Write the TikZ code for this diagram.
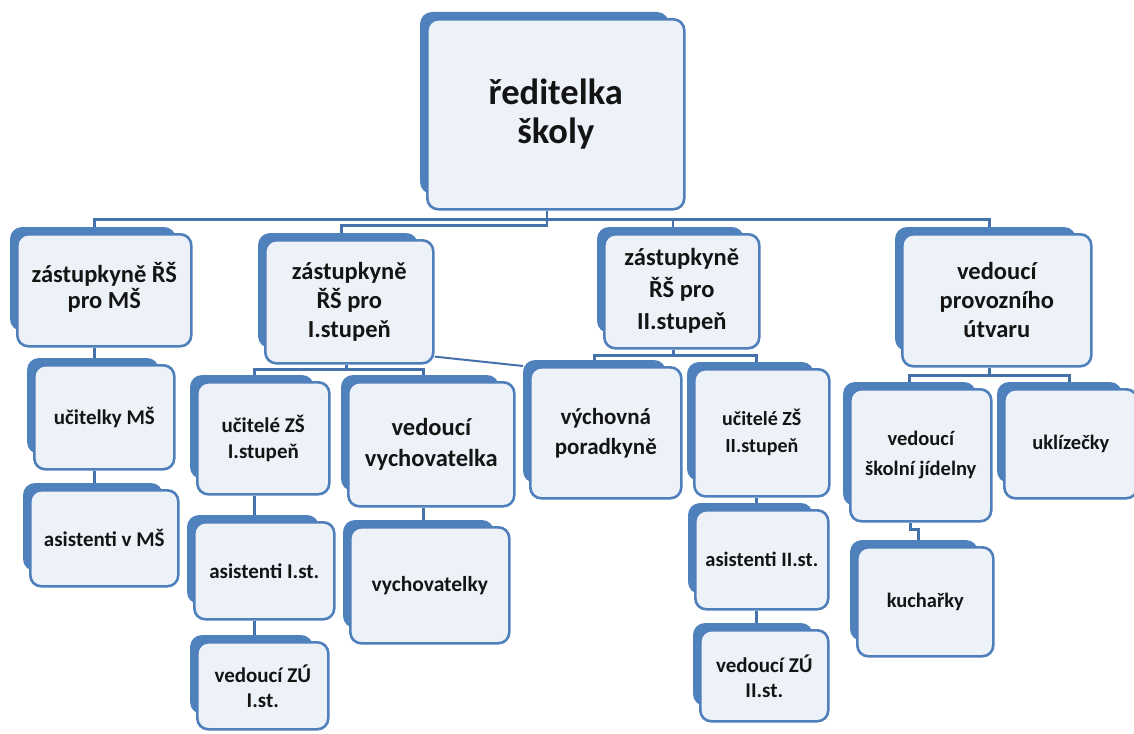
\documentclass[tikz,border=0pt]{standalone}
\usepackage{fontspec}
\setmainfont{Carlito}
\usetikzlibrary{backgrounds}
\definecolor{bandblue}{HTML}{4F81BD}
\definecolor{edgeblue}{HTML}{5080BC}
\definecolor{boxfill}{HTML}{EDF2F9}
\definecolor{linkblue}{HTML}{4672AC}
\definecolor{txt}{HTML}{141414}
\tikzset{
  frontbox/.style={draw=edgeblue, line width=2.6pt, fill=boxfill, rounded corners=11pt,
    inner sep=0pt, align=center, text=txt},
  conn/.style={draw=linkblue, line width=2.6pt},
}
\newcommand\fs[2]{\fontsize{#1}{#2}\selectfont\bfseries}
\newcommand\orgbox[7]{%
  \fill[bandblue, rounded corners=12pt] (#2,#3) rectangle ({#4-14},{#5-14});
  \node[frontbox, anchor=north west, minimum width={#4-#2-6}, minimum height={#5-#3-6},
    font=#6] (#1) at ({#2+6},{#3+6}) {#7};
}
\begin{document}
\begin{tikzpicture}[x=1pt, y=-1pt]
\useasboundingbox (0,0) rectangle (1134,733);
% level 0
\orgbox{root}{420}{12}{683}{208}{\fs{36.5}{39}}{ředitelka\\školy}
% level 1
\orgbox{z1}{10}{227}{190}{345}{\fs{24.5}{26}}{zástupkyně ŘŠ\\pro MŠ\\[-16pt]}
\orgbox{z2}{258}{233}{432}{362}{\fs{24.5}{29}}{zástupkyně\\ŘŠ pro\\I.stupeň}
\orgbox{z3}{597}{227}{758}{347}{\fs{24.5}{32}}{zástupkyně\\ŘŠ pro\\II.stupeň}
\orgbox{z4}{895}{227}{1090}{365}{\fs{24.5}{29}}{vedoucí\\provozního\\útvaru}
% level 2
\orgbox{uMS}{27}{358}{173}{468}{\fs{21}{24}}{učitelky MŠ}
\orgbox{aMS}{23}{483}{177}{585}{\fs{21}{24}}{asistenti v MŠ}
\orgbox{uZS1}{190}{375}{328}{493}{\fs{21}{26}}{učitelé ZŠ\\I.stupeň}
\orgbox{aI}{187}{515}{333}{618}{\fs{21}{24}}{asistenti I.st.}
\orgbox{vZU1}{190}{635}{327}{728}{\fs{21}{25}}{vedoucí ZÚ\\I.st.}
\orgbox{vv}{341}{375}{513}{505}{\fs{24.5}{31}}{vedoucí\\vychovatelka}
\orgbox{vych}{343}{520}{508}{642}{\fs{21.5}{24}}{vychovatelky}
\orgbox{vp}{523}{360}{680}{497}{\fs{23}{30}}{výchovná\\poradkyně}
\orgbox{uZS2}{687}{362}{828}{495}{\fs{20}{27}}{učitelé ZŠ\\II.stupeň}
\orgbox{aII}{688}{503}{827}{608}{\fs{20.5}{24}}{asistenti II.st.}
\orgbox{vZU2}{693}{623}{827}{720}{\fs{21}{25}}{vedoucí ZÚ\\II.st.}
\orgbox{vsj}{843}{382}{990}{520}{\fs{20.5}{30}}{vedoucí\\školní jídelny}
\orgbox{ukl}{997}{382}{1136}{497}{\fs{20.5}{24}}{uklízečky}
\orgbox{kuch}{850}{540}{992}{655}{\fs{20.5}{24}}{kuchařky}
% connectors
\begin{pgfonlayer}{background}
\draw[conn] ([xshift=-9]root.south) -- ++(0,9) -| ([xshift=-10]z1.north);
\draw[conn] ([xshift=-9]root.south) -- ++(0,15) -| ([xshift=-8]z2.north);
\draw[conn] ([xshift=-9]root.south) -- ++(0,9) -| ([xshift=-9]z3.north);
\draw[conn] ([xshift=-9]root.south) -- ++(0,9) -| ([xshift=-7.5]z4.north);
\draw[conn] ([xshift=-10]z1.south) -- ([xshift=-10]uMS.north);
\draw[conn] ([xshift=-10]uMS.south) -- ([xshift=-10]aMS.north);
\draw[conn] ([xshift=-3]z2.south) -- ++(0,5) -| ([xshift=-9]uZS1.north);
\draw[conn] ([xshift=-3]z2.south) -- ++(0,5) -| ([xshift=-8]vv.north);
\draw[conn] ([xshift=-9]uZS1.south) -- ([xshift=-10]aI.north);
\draw[conn] ([xshift=-10]aI.south) -- ([xshift=-8.5]vZU1.north);
\draw[conn] ([xshift=-8]vv.south) -- ([xshift=-6.5]vych.north);
\draw[conn, line width=2pt] ([yshift=8]z2.south east) -- ([xshift=-6]vp.north west);
\draw[conn] ([xshift=-8.5]z3.south) -- ++(0,6) -| ([xshift=-11.5]vp.north);
\draw[conn] ([xshift=-8.5]z3.south) -- ++(0,6) -| ([xshift=-5.5]uZS2.north);
\draw[conn] ([xshift=-5.5]uZS2.south) -- ([xshift=-5.5]aII.north);
\draw[conn] ([xshift=-5.5]aII.south) -- ([xshift=-8]vZU2.north);
\draw[conn] ([xshift=-7.5]z4.south) -- ++(0,8) -| ([xshift=-11.5]vsj.north);
\draw[conn] ([xshift=-7.5]z4.south) -- ++(0,8) -| ([xshift=-1.5]ukl.north);
\draw[conn] ([xshift=-10.5]vsj.south) -- ++(0,7) -| ([xshift=-7]kuch.north);
\end{pgfonlayer}
\end{tikzpicture}
\end{document}
